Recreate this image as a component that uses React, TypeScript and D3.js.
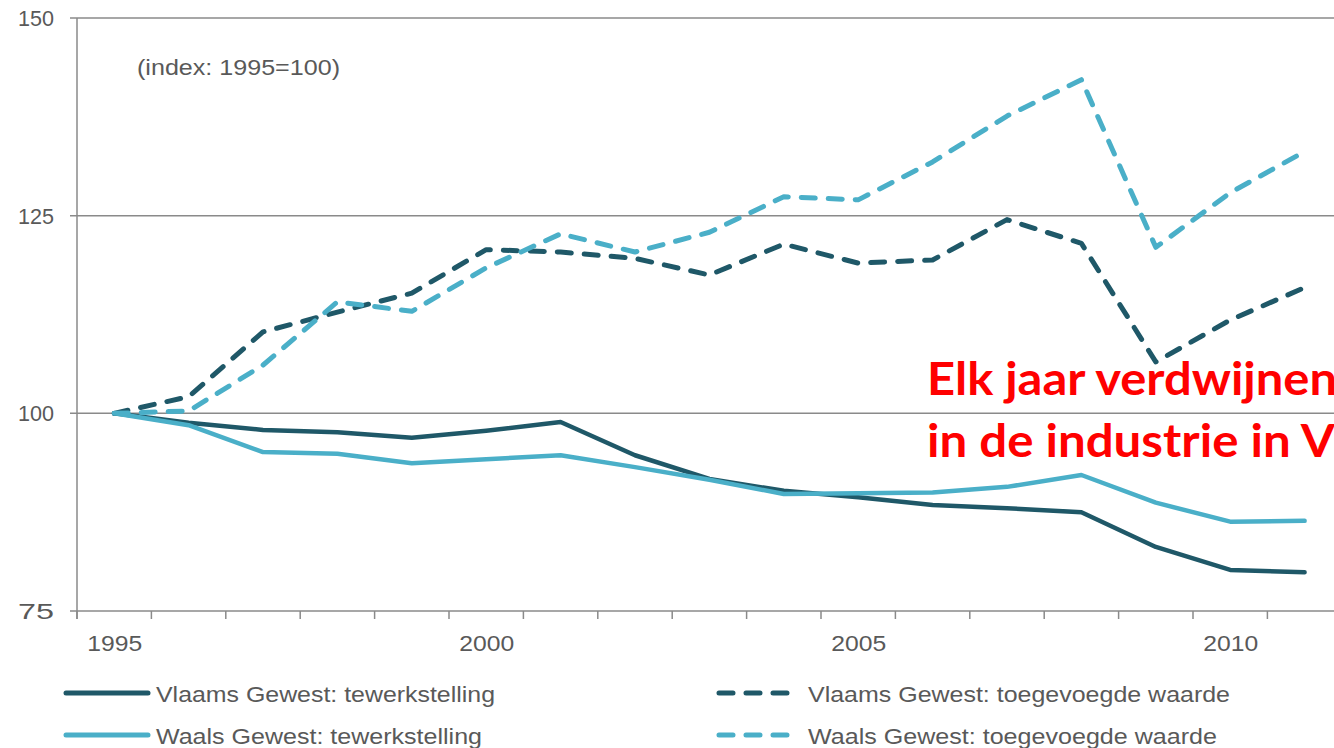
import React from "react";
import * as d3 from "d3";

const years = [1995, 1996, 1997, 1998, 1999, 2000, 2001, 2002, 2003, 2004, 2005, 2006, 2007, 2008, 2009, 2010, 2011];
const yearLabels = [1995, 2000, 2005, 2010];
const yTicks = [75, 100, 125, 150];

const vlaamsTewerkstelling = [100, 98.8, 97.9, 97.6, 96.9, 97.8, 98.9, 94.7, 91.7, 90.2, 89.4, 88.4, 88.0, 87.5, 83.1, 80.2, 79.9];
const waalsTewerkstelling = [100, 98.5, 95.1, 94.9, 93.7, 94.2, 94.7, 93.2, 91.6, 89.8, 89.9, 90.0, 90.7, 92.2, 88.7, 86.3, 86.4];
const vlaamsWaarde = [100, 102.1, 110.3, 112.8, 115.2, 120.7, 120.4, 119.6, 117.5, 121.4, 119.0, 119.4, 124.5, 121.5, 106.5, 111.8, 115.9];
const waalsWaarde = [100, 100.3, 106.1, 114.1, 112.9, 118.4, 122.7, 120.4, 122.9, 127.4, 127.0, 131.8, 137.6, 142.2, 121.0, 127.9, 133.1];

const legendLabels = [
  "Vlaams Gewest: tewerkstelling",
  "Waals Gewest: tewerkstelling",
  "Vlaams Gewest: toegevoegde waarde",
  "Waals Gewest: toegevoegde waarde",
];
const indexNote = "(index: 1995=100)";
const annotationLines = ["Elk jaar verdwijnen", "in de industrie in V"];

const DARK = "#1f5868";
const LIGHT = "#4aafc8";
const GRID = "#8a8a8a";
const TEXT = "#595959";
const FONT = "'Liberation Sans', Arial, sans-serif";

export default function App() {
  const W = 1334;
  const H = 748;
  const x = d3.scaleBand<number>().domain(years).range([77, 77 + years.length * 74.4]).paddingInner(0).paddingOuter(0);
  const y = d3.scaleLinear().domain([75, 150]).range([611, 18]);
  const cx = (yr: number) => (x(yr) as number) + x.bandwidth() / 2;

  const line = d3
    .line<number>()
    .x((_, i) => cx(years[i]))
    .y((v) => y(v))
    .curve(d3.curveLinear);

  const series = [
    { data: vlaamsTewerkstelling, color: DARK, dashed: false },
    { data: waalsTewerkstelling, color: LIGHT, dashed: false },
    { data: vlaamsWaarde, color: DARK, dashed: true },
    { data: waalsWaarde, color: LIGHT, dashed: true },
  ];

  const boundaries = years.map((yr) => x(yr) as number);

  const legend = [
    { label: legendLabels[0], color: DARK, dashed: false, x1: 66, x2: 148, tx: 156, y: 693, tl: 339 },
    { label: legendLabels[1], color: LIGHT, dashed: false, x1: 66, x2: 148, tx: 156, y: 735, tl: 326 },
    { label: legendLabels[2], color: DARK, dashed: true, x1: 719, x2: 789, tx: 808, y: 693, tl: 422 },
    { label: legendLabels[3], color: LIGHT, dashed: true, x1: 719, x2: 789, tx: 808, y: 735, tl: 409 },
  ];

  return (
    <svg
      width={W}
      height={H}
      viewBox={`0 0 ${W} ${H}`}
      style={{ position: "fixed", left: 0, top: 0, background: "#fff", display: "block" }}
    >
      <rect x={0} y={0} width={W} height={H} fill="#fff" />
      {/* horizontal grid lines */}
      {yTicks.filter((t) => t !== 75).map((t) => (
        <line key={"g" + t} x1={70} x2={W} y1={y(t)} y2={y(t)} stroke={GRID} strokeWidth={1.5} />
      ))}
      {/* y axis */}
      <line x1={77} x2={77} y1={y(150)} y2={y(75) + 8} stroke={GRID} strokeWidth={1.5} />
      <line x1={70} x2={77} y1={y(75)} y2={y(75)} stroke={GRID} strokeWidth={1.5} />
      {/* x axis */}
      <line x1={77} x2={W} y1={y(75)} y2={y(75)} stroke={GRID} strokeWidth={1.5} />
      {boundaries.map((b, i) => (
        <line key={"t" + i} x1={b} x2={b} y1={y(75)} y2={y(75) + 8} stroke={GRID} strokeWidth={1.5} />
      ))}
      {/* y labels */}
      {yTicks.map((t) => (
        <text
          key={"yl" + t}
          x={54}
          y={y(t) + 8}
          textAnchor="end"
          fontFamily={FONT}
          fontSize={22}
          fill={TEXT}
          textLength={36}
          lengthAdjust="spacingAndGlyphs"
        >
          {t}
        </text>
      ))}
      {/* x labels */}
      {yearLabels.map((yr) => (
        <text
          key={"xl" + yr}
          x={cx(yr) - 27}
          y={651}
          fontFamily={FONT}
          fontSize={22}
          fill={TEXT}
          textLength={55}
          lengthAdjust="spacingAndGlyphs"
        >
          {yr}
        </text>
      ))}
      {/* index note */}
      <text x={137} y={75} fontFamily={FONT} fontSize={22} fill={TEXT} textLength={203} lengthAdjust="spacingAndGlyphs">
        {indexNote}
      </text>
      {/* series */}
      {series.map((s, i) => (
        <path
          key={"s" + i}
          d={line(s.data) || ""}
          fill="none"
          stroke={s.color}
          strokeWidth={s.dashed ? 5 : 4.5}
          strokeLinecap="round"
          strokeLinejoin="round"
          strokeDasharray={s.dashed ? "14 13" : undefined}
        />
      ))}
      {/* legend */}
      {legend.map((l, i) => (
        <g key={"lg" + i}>
          <line
            x1={l.x1}
            x2={l.x2}
            y1={l.y}
            y2={l.y}
            stroke={l.color}
            strokeWidth={5}
            strokeLinecap="round"
            strokeDasharray={l.dashed ? "14 13" : undefined}
          />
          <text
            x={l.tx}
            y={l.y + 9}
            fontFamily={FONT}
            fontSize={22}
            fill={TEXT}
            textLength={l.tl}
            lengthAdjust="spacingAndGlyphs"
          >
            {l.label}
          </text>
        </g>
      ))}
      {/* red annotation */}
      {annotationLines.map((t, i) => (
        <text
          key={"an" + i}
          x={927}
          y={395 + i * 62}
          fontFamily="Lato, 'Open Sans', sans-serif"
          fontWeight={700}
          fontSize={45}
          fill="#ff0000"
          textLength={i === 0 ? 410 : 408}
          lengthAdjust="spacingAndGlyphs"
        >
          {t}
        </text>
      ))}
    </svg>
  );
}
